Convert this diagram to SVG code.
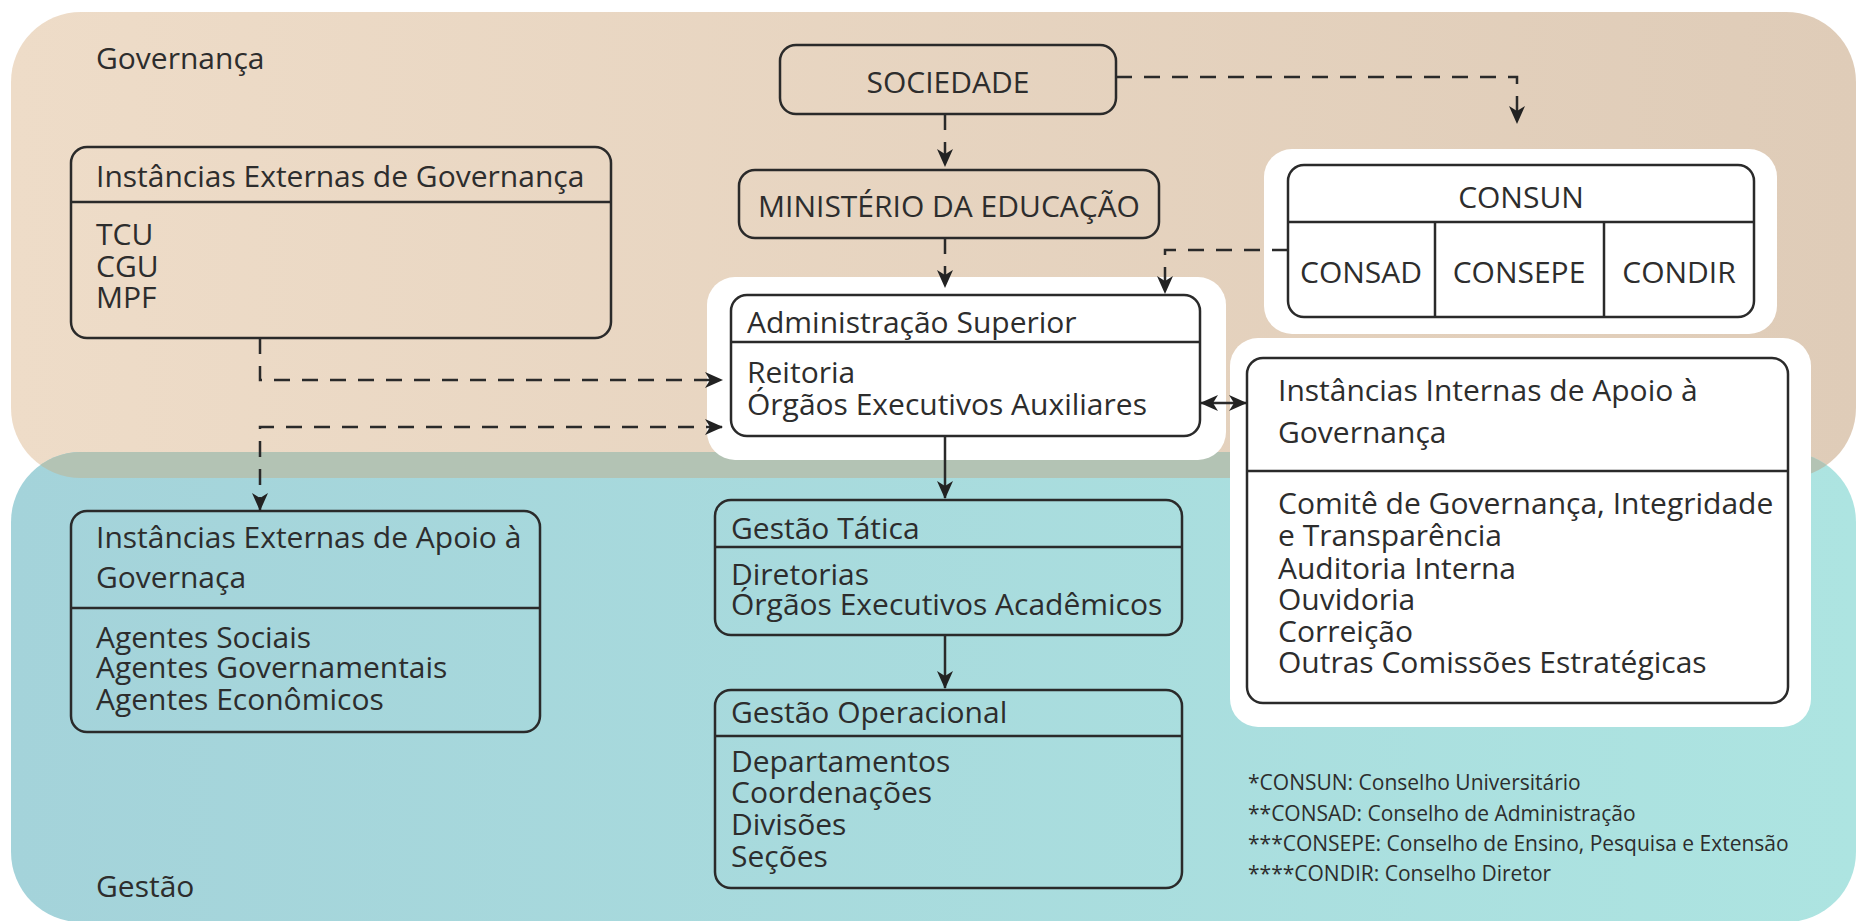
<svg xmlns="http://www.w3.org/2000/svg" width="1858" height="921" viewBox="0 0 1858 921">
<defs>
<linearGradient id="gBeige" x1="0" y1="0" x2="1" y2="0">
<stop offset="0" stop-color="#eedcc8"/>
<stop offset="1" stop-color="#dfccb8"/>
</linearGradient>
<linearGradient id="gBlue" x1="0" y1="0" x2="1" y2="0">
<stop offset="0" stop-color="#a4d3da"/>
<stop offset="1" stop-color="#ade4e1"/>
</linearGradient>
<clipPath id="clipBeige"><rect x="11" y="12" width="1845" height="466" rx="70"/></clipPath>
<marker id="arr" viewBox="0 0 18 16" markerWidth="18" markerHeight="16" refX="17" refY="8" orient="auto-start-reverse" markerUnits="userSpaceOnUse">
<path d="M0,0 L18,8 L0,16 L5,8 Z" fill="#222"/>
</marker>
<style>
.t{font-family:"Open Sans","Noto Sans","Liberation Sans",sans-serif;font-size:30px;fill:#2d2d2d}
.fn{font-family:"Open Sans","Noto Sans","Liberation Sans",sans-serif;font-size:21px;fill:#2d2d2d}
.c{text-anchor:middle}
.box{fill:none;stroke:#2a2a2a;stroke-width:2.5}
.wbox{fill:#fff;stroke:#2a2a2a;stroke-width:2.5}
.halo{fill:#fff}
.div{stroke:#2a2a2a;stroke-width:2.5}
.dash{fill:none;stroke:#2a2a2a;stroke-width:2.5;stroke-dasharray:16 12}
.solid{fill:none;stroke:#2a2a2a;stroke-width:2.5}
</style>
</defs>

<g id="backgrounds">
<rect x="11" y="12" width="1845" height="466" rx="70" fill="url(#gBeige)"/>
<rect x="11" y="452" width="1845" height="470" rx="70" fill="url(#gBlue)"/>
<rect x="11" y="452" width="1845" height="470" rx="70" fill="#b3c3b4" clip-path="url(#clipBeige)"/>
</g>

<g id="label-governanca"><text class="t" x="96" y="69">Governança</text></g>
<g id="label-gestao"><text class="t" x="96" y="897">Gestão</text></g>

<g id="inst-externas-governanca">
<rect class="box" x="71" y="147" width="540" height="191" rx="16"/>
<line class="div" x1="71" y1="202" x2="611" y2="202"/>
<text class="t" x="96" y="187">Instâncias Externas de Governança</text>
<text class="t" x="96" y="245">TCU</text>
<text class="t" x="96" y="277">CGU</text>
<text class="t" x="96" y="308">MPF</text>
</g>

<g id="sociedade">
<rect class="box" x="780" y="45" width="336" height="69" rx="16"/>
<text class="t c" x="948" y="93">SOCIEDADE</text>
</g>

<g id="ministerio">
<rect class="box" x="739" y="170" width="420" height="68" rx="16"/>
<text class="t c" x="949" y="217">MINISTÉRIO DA EDUCAÇÃO</text>
</g>

<g id="administracao-superior">
<rect class="halo" x="707" y="277" width="519" height="183" rx="28"/>
<rect class="wbox" x="731" y="295" width="469" height="141" rx="16"/>
<line class="div" x1="731" y1="342" x2="1200" y2="342"/>
<text class="t" x="747" y="333">Administração Superior</text>
<text class="t" x="747" y="383">Reitoria</text>
<text class="t" x="747" y="415">Órgãos Executivos Auxiliares</text>
</g>

<g id="consun">
<rect class="halo" x="1264" y="149" width="513" height="185" rx="28"/>
<rect class="wbox" x="1288" y="165" width="466" height="152" rx="16"/>
<line class="div" x1="1288" y1="222" x2="1754" y2="222"/>
<line class="div" x1="1435" y1="222" x2="1435" y2="317"/>
<line class="div" x1="1604" y1="222" x2="1604" y2="317"/>
<text class="t c" x="1521" y="208">CONSUN</text>
<text class="t c" x="1361" y="283">CONSAD</text>
<text class="t c" x="1519" y="283">CONSEPE</text>
<text class="t c" x="1679" y="283">CONDIR</text>
</g>

<g id="inst-internas">
<rect class="halo" x="1230" y="338" width="581" height="389" rx="28"/>
<rect class="wbox" x="1247" y="358" width="541" height="345" rx="16"/>
<line class="div" x1="1247" y1="471" x2="1788" y2="471"/>
<text class="t" x="1278" y="401">Instâncias Internas de Apoio à</text>
<text class="t" x="1278" y="443">Governança</text>
<text class="t" x="1278" y="514">Comitê de Governança, Integridade</text>
<text class="t" x="1278" y="546">e Transparência</text>
<text class="t" x="1278" y="579">Auditoria Interna</text>
<text class="t" x="1278" y="610">Ouvidoria</text>
<text class="t" x="1278" y="642">Correição</text>
<text class="t" x="1278" y="673">Outras Comissões Estratégicas</text>
</g>

<g id="inst-externas-apoio">
<rect class="box" x="71" y="511" width="469" height="221" rx="16"/>
<line class="div" x1="71" y1="608" x2="540" y2="608"/>
<text class="t" x="96" y="548">Instâncias Externas de Apoio à</text>
<text class="t" x="96" y="588">Governaça</text>
<text class="t" x="96" y="648">Agentes Sociais</text>
<text class="t" x="96" y="678">Agentes Governamentais</text>
<text class="t" x="96" y="710">Agentes Econômicos</text>
</g>

<g id="gestao-tatica">
<rect class="box" x="715" y="500" width="467" height="135" rx="16"/>
<line class="div" x1="715" y1="547" x2="1182" y2="547"/>
<text class="t" x="731" y="539">Gestão Tática</text>
<text class="t" x="731" y="585">Diretorias</text>
<text class="t" x="731" y="615">Órgãos Executivos Acadêmicos</text>
</g>

<g id="gestao-operacional">
<rect class="box" x="715" y="690" width="467" height="198" rx="16"/>
<line class="div" x1="715" y1="736" x2="1182" y2="736"/>
<text class="t" x="731" y="723">Gestão Operacional</text>
<text class="t" x="731" y="772">Departamentos</text>
<text class="t" x="731" y="803">Coordenações</text>
<text class="t" x="731" y="835">Divisões</text>
<text class="t" x="731" y="867">Seções</text>
</g>

<g id="footnotes">
<text class="fn" x="1248" y="790">*CONSUN: Conselho Universitário</text>
<text class="fn" x="1248" y="821">**CONSAD: Conselho de Administração</text>
<text class="fn" x="1248" y="851">***CONSEPE: Conselho de Ensino, Pesquisa e Extensão</text>
<text class="fn" x="1248" y="881">****CONDIR: Conselho Diretor</text>
</g>

<g id="connectors">
<path class="dash" d="M945,114 V166" marker-end="url(#arr)"/>
<path class="dash" d="M945,238 V287" marker-end="url(#arr)"/>
<path class="dash" d="M1116,77 H1517 V123" marker-end="url(#arr)"/>
<path class="dash" d="M1288,250 H1165 V293" marker-end="url(#arr)"/>
<path class="dash" d="M260,338 V380 H722" marker-end="url(#arr)"/>
<path class="dash" d="M722,427 H260 V510" marker-start="url(#arr)" marker-end="url(#arr)"/>
<path class="solid" d="M1201,403 H1246" marker-start="url(#arr)" marker-end="url(#arr)"/>
<path class="solid" d="M945,436 V498" marker-end="url(#arr)"/>
<path class="solid" d="M945,635 V688" marker-end="url(#arr)"/>
</g>
</svg>
